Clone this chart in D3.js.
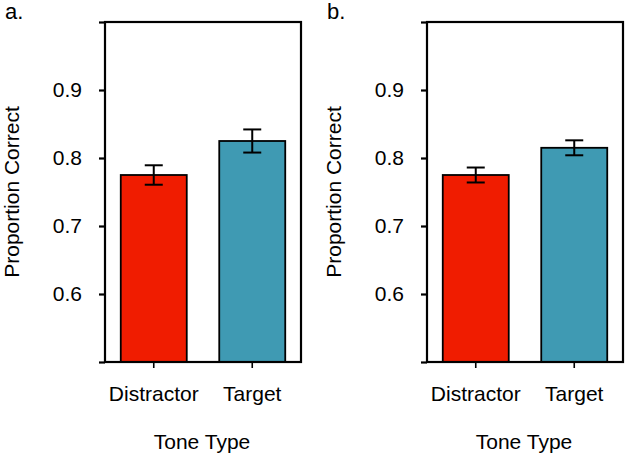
<!DOCTYPE html>
<html>
<head>
<meta charset="utf-8">
<script src="https://cdn.jsdelivr.net/npm/d3@7"></script>
<style>
  html, body { margin: 0; padding: 0; background: #fff; }
  svg text { font-family: "Liberation Sans", Arial, Helvetica, sans-serif; fill: #000; }
</style>
</head>
<body>
<svg id="chart" width="625" height="457"></svg>
<script>
// ---- Data ----
const categories = ["Distractor", "Target"];
const panelLabels = ["a.", "b."];
const panelA_values = [0.775, 0.825];
const panelA_errors = [0.0143, 0.017];
const panelB_values = [0.775, 0.815];
const panelB_errors = [0.011, 0.011];
const yTicks = [0.5, 0.6, 0.7, 0.8, 0.9, 1.0];
const yTickLabels = ["", "0.6", "0.7", "0.8", "0.9", ""];
const barColors = ["#f01c00", "#3f9ab3"];
const yTitle = "Proportion Correct";
const xTitle = "Tone Type";

const panels = [
  { label: panelLabels[0], values: panelA_values, errors: panelA_errors, left: 105 },
  { label: panelLabels[1], values: panelB_values, errors: panelB_errors, left: 427 }
];

const svg = d3.select("#chart");
const plotTop = 22, plotBottom = 362, plotW = 196;
const fs = 21;
const ff = '"Liberation Sans", Arial, Helvetica, sans-serif';

const y = d3.scaleLinear().domain([0.5, 1.0]).range([plotBottom, plotTop]);

panels.forEach(p => {
  const g = svg.append("g").attr("transform", `translate(${p.left},0)`);
  const x = d3.scaleBand().domain(categories).range([0, plotW])
    .paddingInner(0.33).paddingOuter(0.16);

  // bars
  g.selectAll("rect.bar").data(categories).join("rect")
    .attr("class", "bar")
    .attr("x", d => x(d))
    .attr("width", x.bandwidth())
    .attr("y", (d, i) => y(p.values[i]))
    .attr("height", (d, i) => y(0.5) - y(p.values[i]))
    .attr("fill", (d, i) => barColors[i])
    .attr("stroke", "#000")
    .attr("stroke-width", 1.8);

  // error bars
  const capW = 18;
  categories.forEach((c, i) => {
    const cx = x(c) + x.bandwidth() / 2;
    const hi = y(p.values[i] + p.errors[i]);
    const lo = y(p.values[i] - p.errors[i]);
    g.append("line").attr("x1", cx).attr("x2", cx).attr("y1", hi).attr("y2", lo)
      .attr("stroke", "#000").attr("stroke-width", 2);
    [hi, lo].forEach(yy => {
      g.append("line").attr("x1", cx - capW / 2).attr("x2", cx + capW / 2)
        .attr("y1", yy).attr("y2", yy).attr("stroke", "#000").attr("stroke-width", 2);
    });
  });

  // frame
  g.append("rect").attr("x", 0).attr("y", plotTop).attr("width", plotW).attr("height", plotBottom - plotTop)
    .attr("fill", "none").attr("stroke", "#000").attr("stroke-width", 2.2);

  // y axis
  const yAxis = g.append("g").call(
    d3.axisLeft(y).tickValues(yTicks).tickSize(6).tickPadding(17)
      .tickFormat((d, i) => yTickLabels[i])
  );
  yAxis.select(".domain").remove();
  yAxis.selectAll(".tick line").attr("stroke", "#000").attr("stroke-width", 2.2);
  yAxis.selectAll(".tick text").attr("font-size", fs).style("font-family", ff);

  // x axis
  const xAxis = g.append("g").attr("transform", `translate(0,${plotBottom})`).call(
    d3.axisBottom(x).tickSize(6).tickPadding(6)
  );
  xAxis.select(".domain").remove();
  xAxis.selectAll(".tick line").attr("stroke", "#000").attr("stroke-width", 1.6);
  xAxis.selectAll(".tick text").attr("font-size", fs).attr("dy", null)
    .attr("y", 401 - plotBottom).style("font-family", ff);

  // titles
  g.append("text").attr("x", plotW / 2 - 1).attr("y", 449)
    .attr("text-anchor", "middle").attr("font-size", fs).text(xTitle);
  g.append("text").attr("transform", `translate(-86,${(plotTop + plotBottom) / 2}) rotate(-90)`)
    .attr("text-anchor", "middle").attr("font-size", fs).text(yTitle);

  // panel label
  g.append("text").attr("x", -100).attr("y", 19).attr("font-size", 22).text(p.label);
});
</script>
</body>
</html>
